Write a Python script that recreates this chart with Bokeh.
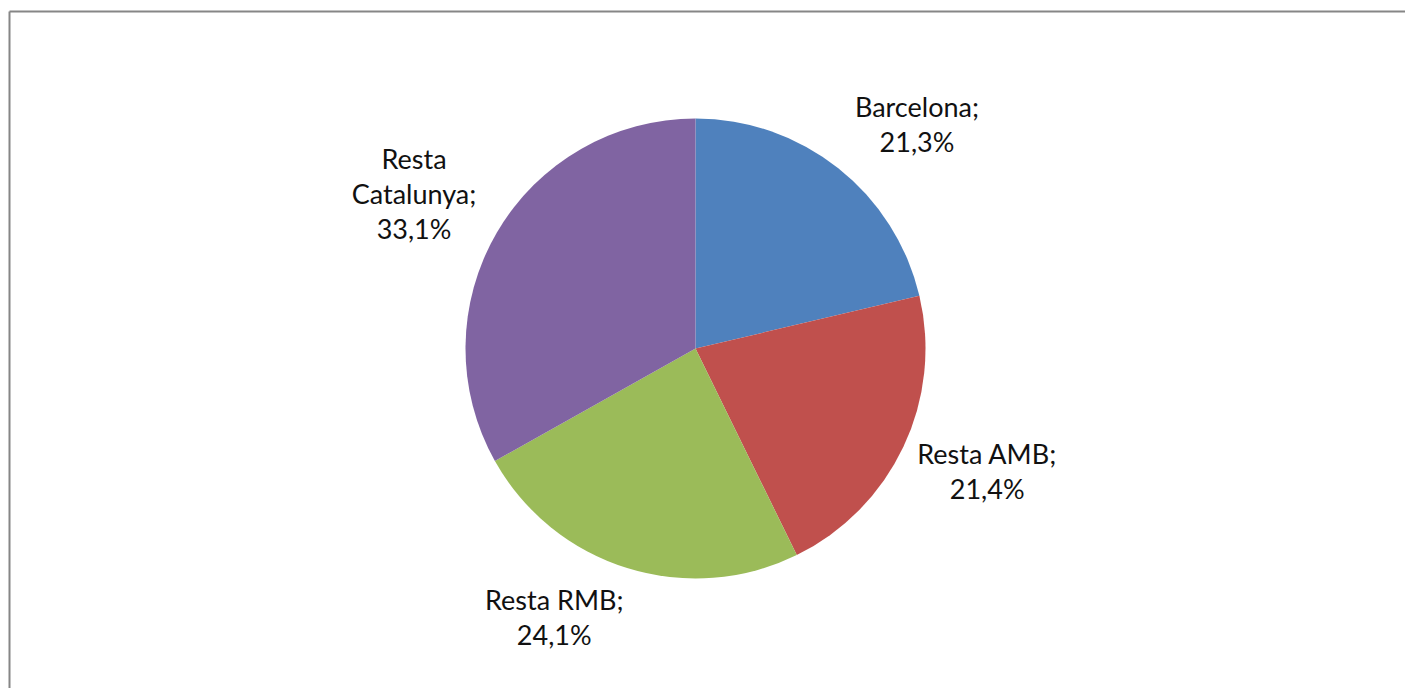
import math
from bokeh.plotting import figure
from bokeh.models import ColumnDataSource, Range1d
from bokeh.core.properties import value
from bokeh.embed import file_html
from bokeh.resources import INLINE

categories = ["Barcelona", "Resta AMB", "Resta RMB", "Resta Catalunya"]
shares = [21.3, 21.4, 24.1, 33.1]
colors = ["#4F81BD", "#C0504D", "#9BBB59", "#8064A2"]
label_lines = [["Barcelona;", "21,3%"], ["Resta AMB;", "21,4%"],
               ["Resta RMB;", "24,1%"], ["Resta", "Catalunya;", "33,1%"]]

W, H = 1405, 688
p = figure(width=W, height=H, output_backend="svg", toolbar_location=None,
           x_range=Range1d(0, W), y_range=Range1d(0, H), min_border=0,
           outline_line_color=None)
p.axis.visible = False
p.grid.visible = False

# chart-area border (only top and left edges fall inside the window)
bx0, by0 = 9, H - 11
p.segment(x0=[bx0, bx0], y0=[by0, by0], x1=[W + 5, bx0], y1=[by0, -5],
          line_color="#868686", line_width=2)

cx, cy, r = 695, 340, 230
total = sum(shares)
starts, ends, mids = [], [], []
cum = 0.0
for s in shares:
    a0 = math.pi / 2 - cum / total * 2 * math.pi
    cum += s
    a1 = math.pi / 2 - cum / total * 2 * math.pi
    starts.append(a0)
    ends.append(a1)
    mids.append((a0 + a1) / 2)

src = ColumnDataSource(dict(x=[cx] * 4, y=[cy] * 4, start=starts, end=ends, color=colors))
p.wedge(x="x", y="y", radius=r, start_angle="start", end_angle="end",
        direction="clock", fill_color="color", line_color=None, source=src)

fs = 27
lh = 1.06
lx, ly, lt = [], [], []
for m, lines in zip(mids, label_lines):
    c, s = math.cos(m), math.sin(m)
    px, py = cx + (r + 18) * c, cy + (r + 16) * s
    hw = 0.25 * fs * max(len(t) for t in lines)
    hh = 17 * len(lines)
    bx = px + hw * max(-1, min(1, 4 * c))
    by = py + hh * max(-1, min(1, 1.2 * s))
    lx.append(bx)
    ly.append(by)
    lt.append("\n".join(lines))

p.text(x=lx, y=ly, text=lt, text_align="center", text_baseline="middle",
       text_font=value("Lato"), text_font_size=f"{fs}px", text_color="#111111",
       text_line_height=lh)

open("out.html", "w").write(file_html(p, INLINE))
